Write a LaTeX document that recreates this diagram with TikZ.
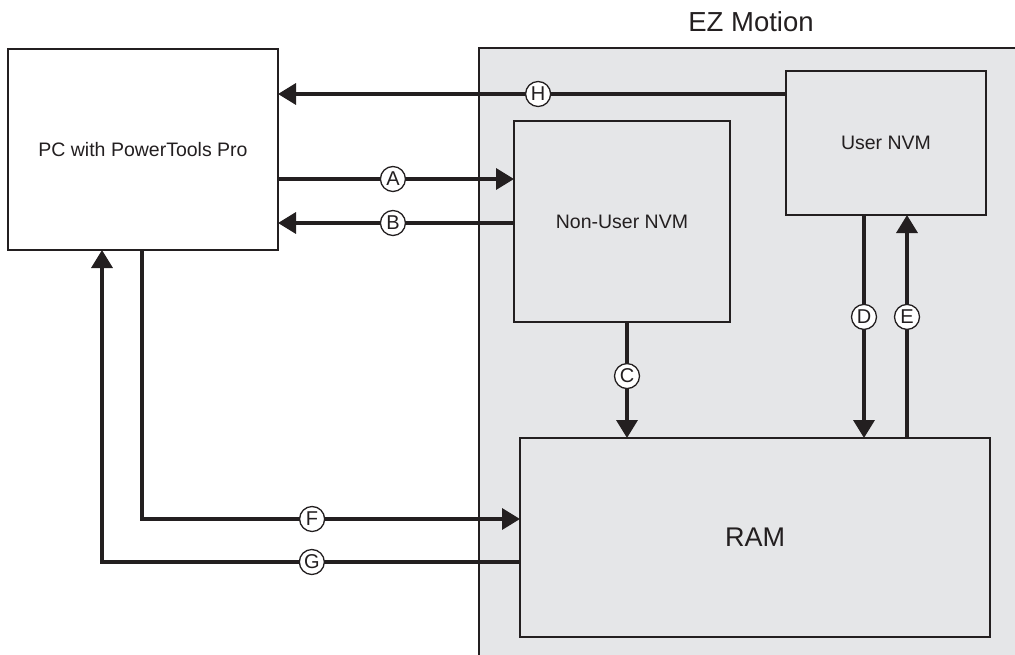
\documentclass[tikz,border=0pt]{standalone}
\usepackage{fontspec}
\setmainfont{Liberation Sans}
\usetikzlibrary{arrows.meta,calc}
\definecolor{ink}{HTML}{231F20}
\definecolor{panelgray}{HTML}{E5E6E8}
\begin{document}
\begin{tikzpicture}[x=1pt,y=-1pt,
  box/.style={draw=ink,line width=1.8pt,rectangle,inner sep=0pt,outer sep=0pt,text=ink,font=\fontsize{19.5}{23}\selectfont},
  conn/.style={draw=ink,line width=3.5pt},
  arr/.style={conn,-{Triangle[length=18pt,width=21pt]}},
  lab/.style={circle,draw=ink,line width=1.3pt,fill=white,inner sep=0pt,minimum size=25pt,text=ink,font=\fontsize{20}{20}\selectfont}]
\useasboundingbox (0,0) rectangle (1015,654);
\clip (0,0) rectangle (1015,654);
% EZ Motion panel
\filldraw[fill=panelgray,draw=ink,line width=1.8pt] (479,48) rectangle (1040,680);
\node[text=ink,font=\fontsize{27.5}{32}\selectfont] (title) at (751,22) {EZ Motion};
% boxes
\node[box,fill=white,minimum width=270pt,minimum height=201pt] (pc) at (143,149.5) {PC with PowerTools Pro};
\node[box,fill=panelgray,minimum width=216pt,minimum height=201pt] (nonuser) at (622,221.5) {Non-User NVM};
\node[box,fill=panelgray,minimum width=200pt,minimum height=144pt] (user) at (886,143) {User NVM};
\node[box,fill=panelgray,minimum width=470pt,minimum height=199pt,font=\fontsize{27}{32}\selectfont] (ram) at (755,537.5) {RAM};
% helper coordinates
\coordinate (yH) at (0,94);
\coordinate (yA) at (0,179);
\coordinate (yB) at (0,223);
\coordinate (yF) at (0,519);
\coordinate (yG) at (0,562);
\coordinate (xC) at (627,0);
\coordinate (xD) at (864,0);
\coordinate (xE) at (907,0);
\coordinate (xF) at (142,0);
\coordinate (xG) at (102,0);
% connectors
\draw[arr] (user.west |- yH) -- node[lab,pos=.488]{H} (pc.east |- yH);
\draw[arr] (pc.east |- yA) -- node[lab,pos=.487]{A} (nonuser.west |- yA);
\draw[arr] (nonuser.west |- yB) -- node[lab,pos=.513]{B} (pc.east |- yB);
\draw[arr] (nonuser.south -| xC) -- node[lab,pos=.466]{C} (ram.north -| xC);
\draw[arr] (user.south -| xD) -- node[lab,pos=.457]{D} (ram.north -| xD);
\draw[arr] (ram.north -| xE) -- node[lab,pos=.543]{E} (user.south -| xE);
\draw[arr] (pc.south -| xF) -- (xF |- yF) -- node[lab,pos=.45]{F} (ram.west |- yF);
\draw[arr] (ram.west |- yG) -- node[lab,pos=.498]{G} (xG |- yG) -- (pc.south -| xG);
\end{tikzpicture}
\end{document}
